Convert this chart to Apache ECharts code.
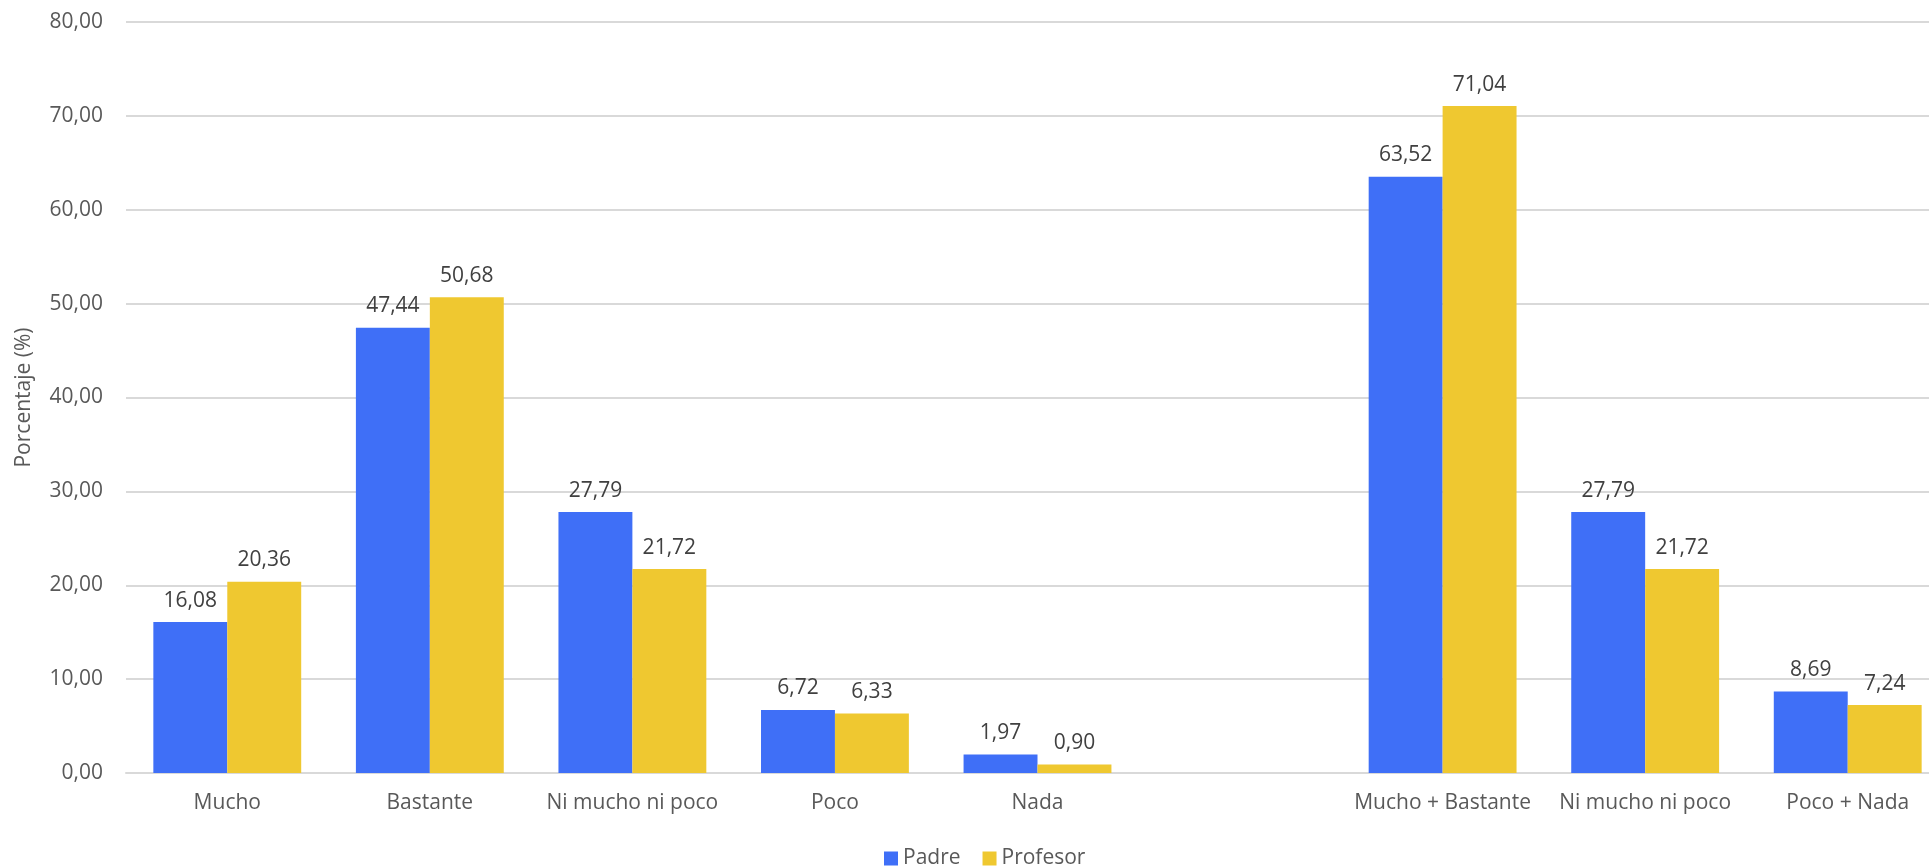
<!DOCTYPE html>
<html>
<head>
<meta charset="utf-8">
<script src="https://cdn.jsdelivr.net/npm/echarts@6/dist/echarts.min.js"></script>
<style>
html,body{margin:0;padding:0;background:#fff;overflow:hidden;width:1929px;height:868px;}
#c{width:1960px;height:868px;}
</style>
</head>
<body>
<div id="c"></div>
<script>
const categories = ['Mucho', 'Bastante', 'Ni mucho ni poco', 'Poco', 'Nada', '', 'Mucho + Bastante', 'Ni mucho ni poco', 'Poco + Nada'];
const padre = [16.08, 47.44, 27.79, 6.72, 1.97, null, 63.52, 27.79, 8.69];
const profesor = [20.36, 50.68, 21.72, 6.33, 0.90, null, 71.04, 21.72, 7.24];
const seriesNames = ['Padre', 'Profesor'];
const yTicks = { min: 0, max: 80, interval: 10 };

const fmt = v => Number(v).toFixed(2).replace('.', ',');
const font = '"Open Sans", "Noto Sans", sans-serif';

const chart = echarts.init(document.getElementById('c'), null, { renderer: 'canvas' });
const labelCfg = {
  show: true, position: 'top', distance: 11,
  color: '#404040', fontSize: 21, fontFamily: font,
  formatter: p => fmt(p.value)
};
chart.setOption({
  animation: false,
  backgroundColor: '#fff',
  textStyle: { fontFamily: font },
  grid: { left: 126, top: 22, width: 1823, height: 751, containLabel: false },
  legend: {
    data: seriesNames, top: 843, left: 879,
    itemWidth: 14, itemHeight: 14, itemGap: 22, icon: 'rect',
    textStyle: { color: '#595959', fontSize: 21, fontFamily: font }
  },
  xAxis: {
    type: 'category', data: categories,
    axisLine: { show: true, lineStyle: { color: '#d9d9d9', width: 2 } },
    axisTick: { show: false },
    axisLabel: { color: '#595959', fontSize: 21, fontFamily: font, margin: 20, interval: 0 }
  },
  yAxis: {
    type: 'value', min: yTicks.min, max: yTicks.max, interval: yTicks.interval,
    name: 'Porcentaje (%)', nameLocation: 'middle', nameGap: 91, nameRotate: 90,
    nameTextStyle: { color: '#595959', fontSize: 21, fontFamily: font },
    axisLine: { show: false }, axisTick: { show: false },
    axisLabel: { color: '#595959', fontSize: 21, fontFamily: font, margin: 23, formatter: v => fmt(v) },
    splitLine: { lineStyle: { color: '#d9d9d9', width: 2 } }
  },
  series: [
    { name: seriesNames[0], type: 'bar', data: padre, barGap: '0%', barCategoryGap: '27%',
      itemStyle: { color: '#3F6FF7' }, label: labelCfg },
    { name: seriesNames[1], type: 'bar', data: profesor, barGap: '0%', barCategoryGap: '27%',
      itemStyle: { color: '#EFC830' }, label: labelCfg }
  ]
});
</script>
</body>
</html>
